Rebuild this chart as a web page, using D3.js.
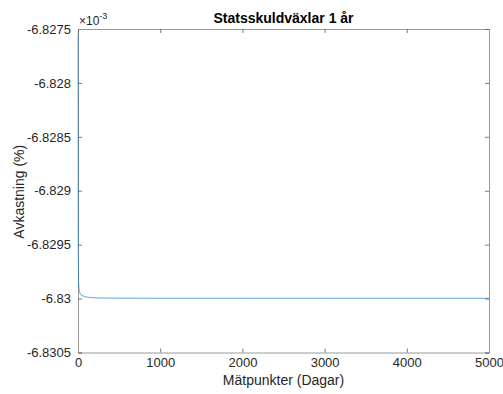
<!DOCTYPE html>
<html>
<head>
<meta charset="utf-8">
<script src="https://cdn.jsdelivr.net/npm/d3@7"></script>
<style>
  html, body { margin: 0; padding: 0; background: #fff; }
  svg { display: block; font-family: "Liberation Sans", Arial, Helvetica, sans-serif; }
</style>
</head>
<body>
<svg id="chart" width="503" height="394"></svg>
<script>
// Data (values in units of 1e-3)
const days   = [1, 2, 3, 5, 8, 12, 20, 30, 45, 60, 80, 100, 150, 200, 300, 500, 1000, 2000, 3000, 4000, 5000];
const yields = [-6.82754, -6.8290, -6.8295, -6.82975, -6.82985, -6.82991, -6.82994, -6.82996, -6.82997, -6.829975,
                -6.82998, -6.829985, -6.82999, -6.829993, -6.829995, -6.829996, -6.829997, -6.829997, -6.829997, -6.829997, -6.829997];
const xTicks = [0, 1000, 2000, 3000, 4000, 5000];
const yTicks = [-6.8305, -6.83, -6.8295, -6.829, -6.8285, -6.828, -6.8275];
const yTickLabels = ["-6.8305", "-6.83", "-6.8295", "-6.829", "-6.8285", "-6.828", "-6.8275"];
const chartTitle = "Statsskuldväxlar 1 år";
const xTitle = "Mätpunkter (Dagar)";
const yTitle = "Avkastning (%)";

(function () {
const svg = d3.select("#chart");
const L = 78, R = 489, T = 29, B = 352.5;
const x = d3.scaleLinear().domain([0, 5000]).range([L, R]);
const y = d3.scaleLinear().domain([-6.8305, -6.8275]).range([B, T]);

const axisColor = "#9a9a9a";
const tickColor = "#5a5a5a";
const textColor = "#262626";

// Axes
const axB = d3.axisBottom(x).tickValues(xTicks).tickSize(-4).tickPadding(5).tickFormat(d3.format("d"));
const axL = d3.axisLeft(y).tickValues(yTicks).tickSize(-4).tickPadding(7).tickFormat((d, i) => yTickLabels[i]);
const axT = d3.axisTop(x).tickValues(xTicks).tickSize(-4).tickFormat("");
const axR = d3.axisRight(y).tickValues(yTicks).tickSize(-4).tickFormat("");

function style(g) {
  g.select(".domain").attr("stroke", axisColor).attr("stroke-width", 1);
  g.selectAll(".tick line").attr("stroke", tickColor).attr("stroke-width", 0.8);
  g.selectAll(".tick text").attr("fill", textColor).attr("font-size", 13)
    .attr("font-family", "Liberation Sans, Arial, sans-serif");
}
svg.append("g").attr("transform", `translate(0,${B})`).call(axB).call(style);
svg.append("g").attr("transform", `translate(${L},0)`).call(axL).call(style);
svg.append("g").attr("transform", `translate(0,${T})`).call(axT).call(style);
svg.append("g").attr("transform", `translate(${R},0)`).call(axR).call(style);

// Line (drawn over the axes, as in the reference)
const line = d3.line().x((d, i) => x(days[i])).y(d => y(d)).curve(d3.curveMonotoneX);
svg.append("path")
  .datum(yields)
  .attr("d", line)
  .attr("fill", "none")
  .attr("stroke", "#0072BD")
  .attr("stroke-width", 0.9)
  .attr("stroke-opacity", 0.7);

// Exponent label
const ex = svg.append("text").attr("x", L + 1).attr("y", 25).attr("fill", textColor)
  .attr("font-size", 12);
ex.append("tspan").text("×10");
ex.append("tspan").attr("font-size", 9).attr("dy", -6).text("-3");

// Title
svg.append("text").attr("x", (L + R) / 2).attr("y", 22.5).attr("text-anchor", "middle")
  .attr("font-size", 14).attr("font-weight", "bold").attr("fill", "#000").text(chartTitle);

// X label
svg.append("text").attr("x", (L + R) / 2).attr("y", 384.5).attr("text-anchor", "middle")
  .attr("font-size", 14).attr("fill", textColor).text(xTitle);

// Y label
svg.append("text").attr("transform", `translate(24,${(T + B) / 2 + 1}) rotate(-90)`).attr("text-anchor", "middle")
  .attr("font-size", 14).attr("fill", textColor).text(yTitle);
})();
</script>
</body>
</html>
